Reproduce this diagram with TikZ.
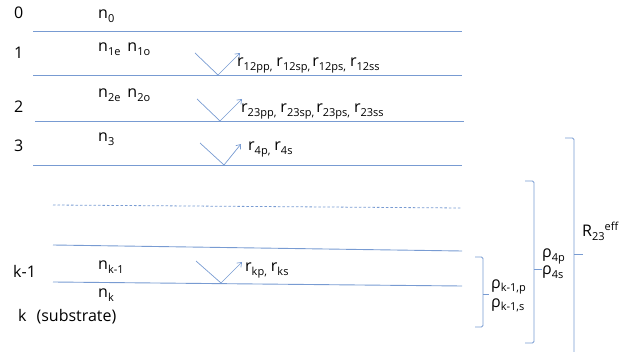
\documentclass[tikz,border=0pt]{standalone}
\usepackage{fontspec}
\setmainfont{Open Sans}
\usetikzlibrary{arrows.meta}
\definecolor{lc}{RGB}{120,155,210}
\newcommand{\lsub}[1]{\raisebox{-3.5pt}{\fontsize{11}{12}\selectfont #1}}
\newcommand{\lsup}[1]{\raisebox{6.5pt}{\fontsize{11}{12}\selectfont #1}}
\begin{document}
\begin{tikzpicture}[x=1pt,y=-1pt,
  layer/.style={draw=lc, line width=0.9pt},
  dlayer/.style={draw=lc, line width=0.8pt, dash pattern=on 2.5pt off 2pt},
  ray/.style={draw=lc, line width=0.7pt},
  rayarrow/.style={ray, -{Straight Barb[length=4pt,width=6pt]}},
  brace/.style={draw=lc, line width=0.9pt, rounded corners=1.5pt},
  lbl/.style={anchor=base west, inner sep=0pt, font=\fontsize{16}{19}\selectfont}]
\useasboundingbox (0,0) rectangle (639,352);
% layer boundaries
\coordinate (L1a) at (33,31);  \coordinate (L1b) at (462,31);
\coordinate (L2a) at (33,75);  \coordinate (L2b) at (462,75);
\coordinate (L3a) at (35,121); \coordinate (L3b) at (464,121);
\coordinate (L4a) at (33,165); \coordinate (L4b) at (462,165);
\coordinate (L5a) at (53,205); \coordinate (L5b) at (462,208);
\coordinate (L6a) at (53,245); \coordinate (L6b) at (462,251);
\coordinate (L7a) at (53,282); \coordinate (L7b) at (462,286);
\draw[layer] (L1a) -- (L1b);
\draw[layer] (L2a) -- (L2b);
\draw[layer] (L3a) -- (L3b);
\draw[layer] (L4a) -- (L4b);
\draw[dlayer] (L5a) -- (L5b);
\draw[layer] (L6a) -- (L6b);
\draw[layer] (L7a) -- (L7b);
% layer numbers
\node[lbl] (i0) at (14,19) {0};
\node[lbl] (i1) at (14,59) {1};
\node[lbl] (i2) at (14,113) {2};
\node[lbl] (i3) at (14,152) {3};
\node[lbl] (ik1) at (13,277) {k-1};
\node[lbl] (ik) at (18,321) {k\hspace{10pt}(substrate)};
% indices
\node[lbl] (n0) at (98,19) {n\lsub{0}};
\node[lbl] (n1) at (98,52) {n\lsub{1e}\hspace{7pt}n\lsub{1o}};
\node[lbl] (n2) at (98,98) {n\lsub{2e}\hspace{7pt}n\lsub{2o}};
\node[lbl] (n3) at (98,142) {n\lsub{3}};
\node[lbl] (nk1) at (98,270) {n\lsub{k-1}};
\node[lbl] (nk) at (98,298) {n\lsub{k}};
% reflections
\coordinate (A1) at (195,53);  \coordinate (P1) at (218,75);  \coordinate (B1) at (240,53);
\coordinate (A2) at (197,99);  \coordinate (P2) at (220,121); \coordinate (B2) at (242,99);
\coordinate (A3) at (200,143); \coordinate (P3) at (224,165); \coordinate (B3) at (241,144);
\coordinate (A4) at (196,261); \coordinate (P4) at (221,283); \coordinate (B4) at (242,262);
\foreach \i in {1,2,3,4}{
  \draw[ray] (A\i) -- (P\i);
  \draw[rayarrow] (P\i) -- (B\i);
}
\node[lbl] (r12) at (237,67) {r\lsub{12pp,}\hspace{4pt}r\lsub{12sp,}\hspace{2pt}r\lsub{12ps,}\hspace{4pt}r\lsub{12ss}};
\node[lbl] (r23) at (241,113) {r\lsub{23pp,}\hspace{4pt}r\lsub{23sp,}\hspace{2pt}r\lsub{23ps,}\hspace{4pt}r\lsub{23ss}};
\node[lbl] (r4) at (248,151) {r\lsub{4p,}\hspace{4pt}r\lsub{4s}};
\node[lbl] (rk) at (245,272) {r\lsub{kp,}\hspace{4pt}r\lsub{ks}};
% brackets
\draw[brace] (475,257) -- (483,257) -- (483,327) -- (475,327);
\draw[brace] (483,294) -- (489,294);
\draw[brace] (525,181) -- (534,181) -- (534,343) -- (525,343);
\draw[brace] (534,269) -- (542,269);
\draw[brace] (565,138) -- (574,138) -- (574,355);
\draw[brace] (574,254) -- (583,254);
\node[lbl] (rhok1p) at (491,288) {ρ\lsub{k-1,p}};
\node[lbl] (rhok1s) at (491,307) {ρ\lsub{k-1,s}};
\node[lbl] (rho4p) at (542,258) {ρ\lsub{4p}};
\node[lbl] (rho4s) at (542,275) {ρ\lsub{4s}};
\node[lbl] (R23) at (582,237) {R\lsub{23}\lsup{eff}};
\end{tikzpicture}
\end{document}
